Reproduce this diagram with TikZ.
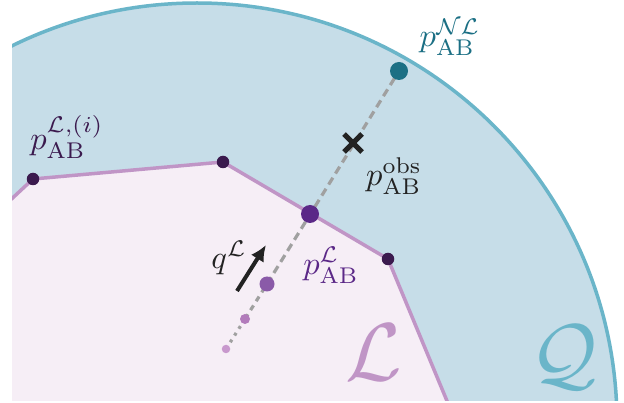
\documentclass[tikz,border=0pt]{standalone}
\usetikzlibrary{arrows.meta,shapes.misc}
\definecolor{qfill}{HTML}{C6DDE8}
\definecolor{qline}{HTML}{6AB5C9}
\definecolor{lfill}{HTML}{F6EEF6}
\definecolor{lline}{HTML}{C095C6}
\definecolor{vdot}{HTML}{3B1A4E}
\definecolor{pldot}{HTML}{5B2887}
\definecolor{nldot}{HTML}{1B6F84}
\definecolor{mdot}{HTML}{8A5AA8}
\definecolor{sdot}{HTML}{B27BBB}
\definecolor{ssdot}{HTML}{C898CD}
\definecolor{dashgray}{HTML}{A0A0A0}
\definecolor{ink}{HTML}{222222}
\tikzset{
  dotnode/.style={circle, inner sep=0pt, minimum size=#1},
  lbl/.style={inner sep=0pt, scale=3.25},
  biglbl/.style={inner sep=0pt, scale=8.2},
  dashline/.style={draw=dashgray, line width=3.2pt},
}
\begin{document}
\begin{tikzpicture}[x=1pt,y=-1pt]
\useasboundingbox (0,0) rectangle (624,403);
\fill[white] (0,0) rectangle (624,403);
% coordinates
\coordinate (v0) at (-10,219);
\coordinate (v1) at (33,179);
\coordinate (v2) at (223,162);
\coordinate (v3) at (388,259);
\coordinate (v4) at (452,413);
\coordinate (c0) at (226,349);
\coordinate (c1) at (245,319);
\coordinate (c2) at (267,284);
\coordinate (cL) at (310,214);
\coordinate (cNL) at (399,71);
\begin{scope}
  \clip (12,0) rectangle (624,400);
  \fill[qfill] (197,423) circle[radius=420pt];
  \fill[lfill] (v0) -- (v1) -- (v2) -- (v3) -- (v4) -- (-10,413) -- cycle;
  \draw[qline, line width=3.5pt] (197,423) circle[radius=420pt];
  \draw[lline, line width=3.5pt, line join=round] (v0) -- (v1) -- (v2) -- (v3) -- (v4);
\end{scope}
% dashed ray
\draw[dashline, dash pattern=on 3pt off 5pt] (c0) -- (c1);
\draw[dashline, dash pattern=on 5.5pt off 5pt] (c1) -- (c2);
\draw[dashline, dash pattern=on 8pt off 5pt] (c2) -- (cNL);
% dots
\node[dotnode=8.5pt, fill=ssdot] (d0) at (c0) {};
\node[dotnode=10pt, fill=sdot] (d1) at (c1) {};
\node[dotnode=15pt, fill=mdot] (d2) at (c2) {};
\node[dotnode=18pt, fill=pldot] (pL) at (cL) {};
\node[dotnode=18pt, fill=nldot] (pNL) at (cNL) {};
\node[dotnode=12.5pt, fill=vdot] (pv1) at (v1) {};
\node[dotnode=12.5pt, fill=vdot] (pv2) at (v2) {};
\node[dotnode=12.5pt, fill=vdot] (pv3) at (v3) {};
% observed point
\node[cross out, draw=ink, line width=5pt, minimum size=13pt, inner sep=0pt] (obs) at (353,143) {};
% direction arrow
\coordinate (qa) at (237,291);
\coordinate (qb) at (266,245);
\draw[ink, line width=4pt, -{Latex[length=16pt,width=15pt]}] (qa) -- (qb);
% labels
\node[lbl, text=vdot] (lbli) at (67,137) {$p_{\mathrm{AB}}^{\mathcal{L},(i)}$};
\node[lbl, text=ink] (lblobs) at (394,176) {$p_{\mathrm{AB}}^{\mathrm{obs}}$};
\node[lbl, text=nldot] (lblnl) at (450,37) {$p_{\mathrm{AB}}^{\mathcal{N}\mathcal{L}}$};
\node[lbl, text=pldot] (lbll) at (331,265) {$p_{\mathrm{AB}}^{\mathcal{L}}$};
\node[lbl, text=ink] (lblq) at (229,258) {$q^{\mathcal{L}}$};
\node[biglbl, text=lline] (bigL) at (374,352) {$\mathcal{L}$};
\node[biglbl, text=qline] (bigQ) at (564,357) {$\mathcal{Q}$};
\end{tikzpicture}
\end{document}
